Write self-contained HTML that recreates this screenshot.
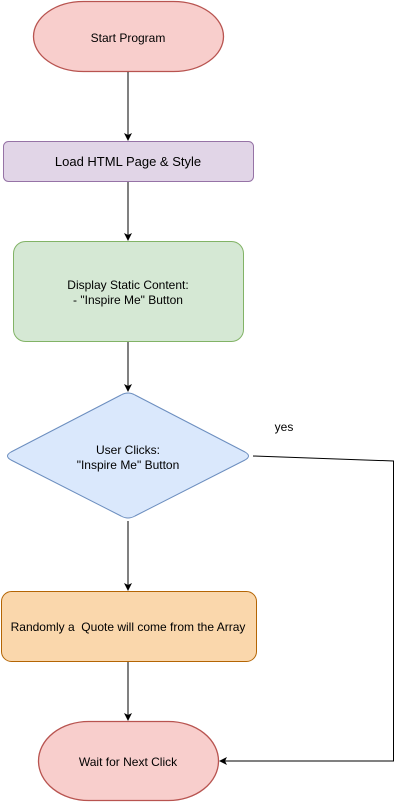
<!DOCTYPE html>
<html><head><meta charset="utf-8"><style>
html,body{margin:0;padding:0;background:#fff;}
svg{display:block;}
text{font-family:"Liberation Sans",Arial,sans-serif;font-size:12px;fill:#000;}
</style></head><body>
<svg width="402" height="802" viewBox="0 0 402 802" xmlns="http://www.w3.org/2000/svg">
<defs><marker id="a" markerWidth="8" markerHeight="8" refX="7" refY="4" orient="auto" markerUnits="userSpaceOnUse"><path d="M0,0 L8,4 L0,8 L2,4 Z" fill="#000"/></marker></defs>
<rect x="33.5" y="1.5" width="190" height="70" rx="50" ry="35" fill="#f8cecc" stroke="#b85450" stroke-width="1.3"/>
<text x="128" y="42" text-anchor="middle">Start Program</text>
<line x1="128" y1="72" x2="128" y2="140" stroke="#000" marker-end="url(#a)"/>
<rect x="3.5" y="141.5" width="250" height="40" rx="5" fill="#e1d5e7" stroke="#9673a6"/>
<text x="128" y="166" text-anchor="middle" style="font-size:13px">Load HTML Page &amp; Style</text>
<line x1="128" y1="182" x2="128" y2="240" stroke="#000" marker-end="url(#a)"/>
<rect x="13.5" y="241.5" width="230" height="100" rx="12" fill="#d5e8d4" stroke="#82b366"/>
<text x="128" y="289" text-anchor="middle">Display Static Content:</text>
<text x="128" y="304" text-anchor="middle">- "Inspire Me" Button</text>
<line x1="128" y1="342" x2="128" y2="391" stroke="#000" marker-end="url(#a)"/>
<path d="M121,395 Q128,391 135,395 L245,452 Q252,456 245,460 L135,516 Q128,520 121,516 L11,460 Q4,456 11,452 Z" fill="#dae8fc" stroke="#6c8ebf"/>
<text x="128" y="454" text-anchor="middle">User Clicks:</text>
<text x="128" y="469" text-anchor="middle">"Inspire Me" Button</text>
<text x="284" y="431" text-anchor="middle">yes</text>
<line x1="128" y1="521" x2="128" y2="590" stroke="#000" marker-end="url(#a)"/>
<rect x="1.5" y="591.5" width="255" height="70" rx="10" fill="#fad7ac" stroke="#b46504"/>
<text x="128" y="631" text-anchor="middle">Randomly a&#160; Quote will come from the Array</text>
<line x1="128" y1="662" x2="128" y2="720" stroke="#000" marker-end="url(#a)"/>
<rect x="38.5" y="721.5" width="180" height="79" rx="50" ry="39.5" fill="#f8cecc" stroke="#b85450" stroke-width="1.3"/>
<text x="128" y="766" text-anchor="middle">Wait for Next Click</text>
<polyline points="253,456 393.5,461 393.5,761 220,761" fill="none" stroke="#000" marker-end="url(#a)"/>
</svg>
</body></html>
